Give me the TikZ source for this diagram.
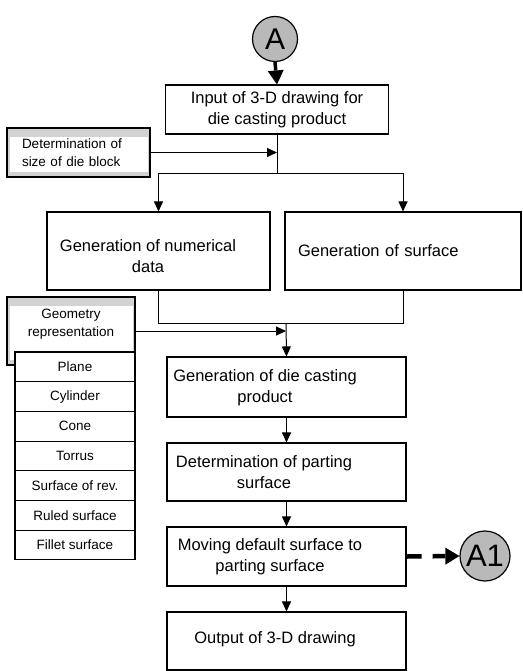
\documentclass[tikz,border=0pt]{standalone}
\usepackage{fontspec}
\setmainfont{Liberation Sans}
\usetikzlibrary{arrows.meta}

\begin{document}
\begin{tikzpicture}[x=1pt, y=-1pt,
    box/.style={draw, line width=1.1pt, minimum width=239pt, inner sep=0pt},
    txt/.style={align=center, inner sep=0pt, font=\fontsize{16.5}{21}\selectfont},
    small/.style={inner sep=0pt, font=\fontsize{13.5}{18}\selectfont},
    graybox/.style={draw, line width=1.1pt, fill=gray!35, inner sep=0pt,
        path picture={\fill[white] ([xshift=3pt,yshift=-9pt]path picture bounding box.north west) rectangle ([xshift=-2pt,yshift=5pt]path picture bounding box.south east);}},
    item/.style={draw, fill=white, line width=1.1pt, minimum width=120pt, minimum height=29.7pt, inner sep=0pt, font=\fontsize{13.5}{18}\selectfont},
    conn/.style={circle, draw, line width=1.2pt, fill=gray!55, inner sep=0pt},
    arr/.style={line width=1pt, -{Triangle[length=10pt,width=9pt]}},
    line/.style={line width=1pt}]
          \useasboundingbox (0,0) rectangle (522,671);

          \node[conn, minimum size=45pt, font=\fontsize{30}{30}\selectfont] (A) at (275,39) {A};

          \node[box, txt, minimum width=223pt, minimum height=49pt] (input) at (277,109.5) {Input of 3-D drawing for\\die casting product};

          \node[graybox, small, minimum width=143pt, minimum height=49pt, text width=113pt, align=left] (size) at (78.5,152.5) {Determination of\\size of die block};

          \node[box, minimum width=223pt, minimum height=78pt] (num) at (158.5,251) {};
          \node[txt] (numtxt) at (148,256) {Generation of numerical\\data};

          \node[box, txt, minimum width=236pt, minimum height=78pt, text width=210pt, align=left] (surf) at (403,251) {Generation of surface\\[4pt]};

          \node[graybox, minimum width=128pt, minimum height=68pt] (geo) at (71,331) {};
          \node[small, align=center] (geotxt) at (71,324) {Geometry\\representation};

          \node[item] (plane) at (75,366.85) {Plane};
          \node[item] (cyl) at (75,396.55) {Cylinder};
          \node[item] (cone) at (75,426.25) {Cone};
          \node[item] (torus) at (75,455.95) {Torrus};
          \node[item] (rev) at (75,485.65) {Surface of rev.};
          \node[item] (ruled) at (75,515.35) {Ruled surface};
          \node[item] (fillet) at (75,545.05) {Fillet surface};

          \node[box, minimum height=60pt] (gen) at (286.5,387) {};
          \node[txt] (gentxt) at (265,388) {Generation of die casting\\product};

          \node[box, minimum height=58pt] (part) at (286.5,472) {};
          \node[txt] (parttxt) at (264,472) {Determination of parting\\surface};

          \node[box, minimum height=59pt] (move) at (286.5,556.5) {};
          \node[txt] (movetxt) at (270,557) {Moving default surface to\\parting surface};

          \node[box, minimum height=58pt] (out) at (286.5,641) {};
          \node[txt] (outtxt) at (275,639) {Output of 3-D drawing};

          \node[conn, minimum size=50pt, font=\fontsize{31}{31}\selectfont] (A1) at (485,556) {A1};

          \coordinate (split) at (277,173);
          \coordinate (join) at (286,323);

          \draw[line width=3.5pt, -{Triangle[length=14pt,width=16pt,line width=0pt]}] (A.south) -- (input.north);
          \draw[line] (input.south) -- (split);
          \draw[arr] (size.east) -- (size.east -| split);
          \draw[line] (split -| num.north) -- (split -| surf.north);
          \draw[arr] (split -| num.north) -- (num.north);
          \draw[arr] (split -| surf.north) -- (surf.north);

          \draw[line] (num.south) -- (num.south |- join) -- (surf.south |- join) -- (surf.south);
          \draw[arr] (geo.east) -- (geo.east -| join);
          \draw[arr] (join) -- (gen.north);

          \draw[arr] (gen.south) -- (part.north);
          \draw[arr] (part.south) -- (move.north);
          \draw[arr] (move.south) -- (out.north);

          \draw[line width=4.5pt, dash pattern=on 15pt off 11pt, -{Triangle[length=14pt,width=17pt,line width=0pt]}] (move.east) -- (A1.west);
        \end{tikzpicture}
\end{document}
